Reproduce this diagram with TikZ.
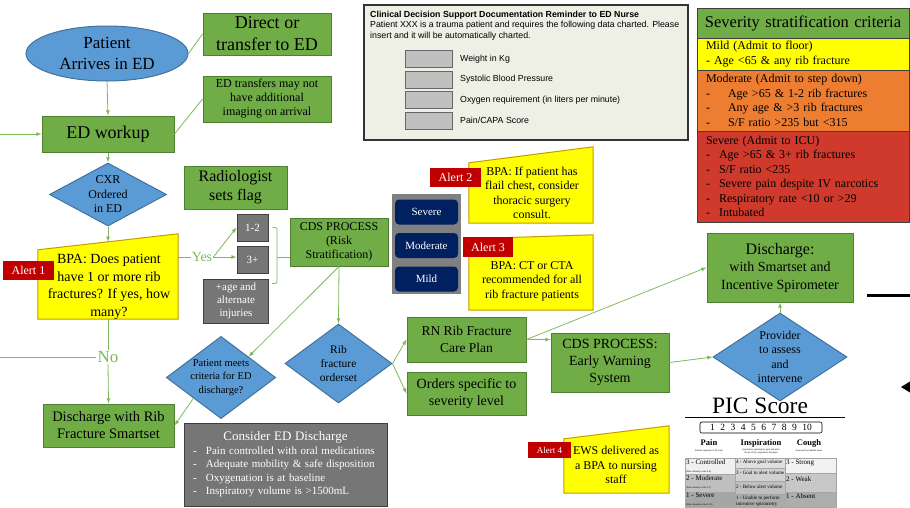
\documentclass[tikz,border=0pt]{standalone}
\usepackage{fontspec}
\setmainfont{Liberation Serif}
\newfontfamily\arialfont{Liberation Sans}
\usepackage{tikz}
\usetikzlibrary{shapes.geometric, backgrounds}
\definecolor{boxfill}{HTML}{70AD47}
\definecolor{boxedge}{HTML}{507E32}
\definecolor{linkgreen}{HTML}{7DB85A}
\definecolor{diafill}{HTML}{5B9BD5}
\definecolor{diaedge}{HTML}{41719C}
\definecolor{bpafill}{HTML}{FFFF00}
\definecolor{bpaedge}{HTML}{C89A00}
\definecolor{alertred}{HTML}{C00000}
\definecolor{flaggray}{HTML}{767676}
\definecolor{flagedge}{HTML}{3F3F3F}
\definecolor{navy}{HTML}{002060}
\definecolor{panelgray}{HTML}{808080}
\definecolor{docfill}{HTML}{EEF0E5}
\definecolor{inputgray}{HTML}{C0C0C0}
\definecolor{mildfill}{HTML}{FFFF00}
\definecolor{modfill}{HTML}{ED7D31}
\definecolor{sevfill}{HTML}{CF3A2C}
\newcommand{\fsz}[2]{\fontsize{#1}{#2}\selectfont}
\newcommand{\bpashape}[2]{
	\filldraw[fill=bpafill, draw=bpaedge, line width=1pt](#1.south west)--(#1.south east)--([yshift=#2pt]#1.north east)--([yshift=-#2pt]#1.north west)--cycle
}
\newcommand{\picgap}{\hspace{5.5pt}}
\tikzset{>=latex}
\tikzset{
	flow/.style={draw=linkgreen, line width=0.8pt},
	greenbox/.style={rectangle, draw=boxedge, fill=boxfill, line width=1pt, align=center, inner sep=0pt},
	bluediamond/.style={diamond, draw=diaedge, fill=diafill, line width=1pt, align=center, inner sep=0pt},
	bpabox/.style={rectangle, inner sep=0pt},
	bpatext/.style={align=center, inner sep=0pt, font=\fsz{12}{14.5}},
	alertbox/.style={rectangle, fill=alertred, text=white, inner sep=0pt, font=\fsz{12}{14}},
	flagbox/.style={rectangle, draw=flagedge, fill=flaggray, line width=1pt, text=white, align=center, inner sep=0pt, font=\fsz{11}{13}},
	levelbtn/.style={rectangle, rounded corners=4pt, fill=navy, text=white, minimum width=63pt, minimum height=25pt, inner sep=0pt, font=\fsz{11}{13}},
	critcell/.style={rectangle, draw=flagedge, line width=0.8pt, minimum width=212pt, text width=194pt, inner xsep=9pt, inner ysep=0pt, align=left, font=\fsz{12}{14.5}},
	inputbox/.style={rectangle, draw=black!60, fill=inputgray, line width=0.8pt, minimum width=47pt, minimum height=17pt, inner sep=0pt},
	inputlabel/.style={anchor=west, inner sep=0pt, font=\arialfont\fsz{8.8}{10}},
	piccell/.style={draw=black!35, line width=0.3pt},
	picrow/.style={anchor=north west, inner sep=0pt, align=left, font=\fsz{7}{7.5}},
	picsub/.style={inner sep=0pt, align=center, font=\fsz{2.5}{3}},
	yesno/.style={text=linkgreen, inner sep=1pt}
}

\begin{document}
\begin{tikzpicture}[x=1pt, y=-1pt]
	\useasboundingbox (0,0) rectangle (910,507);
	% arrival and workup
	\node[ellipse, draw=diaedge, fill=diafill, line width=1pt, minimum width=162pt, minimum height=55pt, inner sep=0pt, align=center, font=\fsz{17}{21}] (arrive) at (107,53.5) {Patient\\Arrives in ED};
	\node[greenbox, minimum width=128pt, minimum height=42pt, font=\fsz{18}{22}] (direct) at (267,34) {Direct or\\transfer to ED};
	\node[greenbox, minimum width=128pt, minimum height=46pt, font=\fsz{12}{14}] (transfers) at (267,99) {ED transfers may not\\have additional\\imaging on arrival};
	\node[greenbox, minimum width=132pt, minimum height=36pt, font=\fsz{18}{22}] (workup) at (108,134) {ED workup};
	\node[bluediamond, aspect=1.86, minimum width=117pt, minimum height=63pt, font=\fsz{12}{14.5}] (cxr) at (108,194.5) {CXR\\Ordered\\in ED};
	% alert 1
	\node[bpabox, minimum width=140pt, minimum height=77pt] (bpa1) at (108,280.5) {};
	\node[bpatext, font=\fsz{14}{17.5}] (bpa1text) at (109,287) {BPA: Does patient\\have 1 or more rib\\fractures? If yes, how\\many?};
	\node[alertbox, minimum width=51pt, minimum height=19pt] (alert1) at (28.5,270.5) {Alert 1};
	\node[yesno, font=\fsz{14}{16}] (yes) at (202,257) {Yes};
	\node[yesno, font=\fsz{17}{19}] (no) at (108,357) {No};
	% radiology flags
	\node[greenbox, minimum width=103pt, minimum height=43pt, font=\fsz{16}{19}] (radio) at (235.5,187.5) {Radiologist\\sets flag};
	\node[flagbox, minimum width=31pt, minimum height=27pt] (one2) at (252.5,227.5) {1-2};
	\node[flagbox, minimum width=31pt, minimum height=27pt] (three) at (252.5,259.5) {3+};
	\node[flagbox, minimum width=65pt, minimum height=44pt] (age) at (236,301) {+age and\\alternate\\injuries};
	\node[greenbox, minimum width=98pt, minimum height=48pt, font=\fsz{12}{14}] (cdsrisk) at (339,242) {CDS PROCESS\\(Risk\\Stratification)};
	% severity buttons
	\node[rectangle, fill=panelgray, minimum width=69pt, minimum height=100pt, inner sep=0pt] (panel) at (426.5,244) {};
	\node[levelbtn] (btnsevere) at (426.5,212) {Severe};
	\node[levelbtn] (btnmoderate) at (426.5,245.5) {Moderate};
	\node[levelbtn] (btnmild) at (426.5,279) {Mild};
	% alerts 2 and 3
	\node[bpabox, minimum width=124pt, minimum height=68pt] (bpa2) at (531,189) {};
	\node[bpatext] (bpa2text) at (532,193) {BPA: If patient has\\flail chest, consider\\thoracic surgery\\consult.};
	\node[alertbox, minimum width=51pt, minimum height=19pt] (alert2) at (455.5,177.5) {Alert 2};
	\node[bpabox, minimum width=124pt, minimum height=73pt] (bpa3) at (531,273.5) {};
	\node[bpatext] (bpa3text) at (532,281) {BPA: CT or CTA\\recommended for all\\rib fracture patients};
	\node[alertbox, minimum width=50pt, minimum height=20pt] (alert3) at (488,247) {Alert 3};
	% orderset and discharge
	\node[bluediamond, aspect=1.35, minimum width=107pt, minimum height=79pt, font=\fsz{11.5}{14}] (rib) at (338.5,363.5) {Rib\\fracture\\orderset};
	\node[bluediamond, aspect=1.33, minimum width=108pt, minimum height=81pt, font=\fsz{10.5}{13.5}] (meets) at (221,377.5) {Patient meets\\criteria for ED\\discharge?};
	\node[greenbox, minimum width=131pt, minimum height=43pt, font=\fsz{14.5}{17}] (dischrib) at (108.5,425.5) {Discharge with Rib\\Fracture Smartset};
	\node[flagbox, minimum width=203pt, minimum height=83pt, text width=185pt, inner xsep=9pt, align=left, font=\fsz{11}{13.5}] (consider) at (285.5,464.5) {\makebox[185pt]{\fsz{13}{16}Consider ED Discharge}\\\makebox[13pt][l]{-}Pain controlled with oral medications\\\makebox[13pt][l]{-}Adequate mobility \& safe disposition\\\makebox[13pt][l]{-}Oxygenation is at baseline\\\makebox[13pt][l]{-}Inspiratory volume is >1500mL};
	\node[greenbox, minimum width=119pt, minimum height=45pt, font=\fsz{13.5}{17}] (rn) at (466.5,339.5) {RN Rib Fracture\\Care Plan};
	\node[greenbox, minimum width=119pt, minimum height=43pt, font=\fsz{14}{17}] (orders) at (466.5,393.5) {Orders specific to\\severity level};
	\node[greenbox, minimum width=118pt, minimum height=59pt, font=\fsz{14}{17}] (cdsews) at (610,362.5) {CDS PROCESS:\\Early Warning\\System};
	\node[bluediamond, aspect=1.52, minimum width=134pt, minimum height=88pt, font=\fsz{12}{14.3}] (provider) at (780,357) {Provider\\to assess\\and\\intervene};
	\node[greenbox, minimum width=146pt, minimum height=69pt, font=\fsz{14}{17.5}] (discharge) at (780,267.5) {{\fsz{16}{17.5}Discharge:}\\with Smartset and\\Incentive Spirometer};
	% alert 4
	\node[bpabox, minimum width=105pt, minimum height=60.5pt] (ews) at (616.5,462.75) {};
	\node[bpatext] (ewstext) at (616,465) {EWS delivered as\\a BPA to nursing\\staff};
	\node[alertbox, minimum width=43pt, minimum height=16pt, font=\fsz{9}{10}] (alert4) at (549.5,450) {Alert 4};
	\begin{scope}[on background layer]
		\bpashape{bpa1}{8};
		\bpashape{bpa2}{8};
		\bpashape{bpa3}{2};
		\bpashape{ews}{6.5};
	\end{scope}
	% criteria table
	\node[critcell, fill=boxfill, minimum height=30pt, align=center, font=\fsz{16.5}{18}] (crithead) at (803,23) {\makebox[194pt]{Severity stratification criteria}};
	\node[critcell, fill=mildfill, minimum height=32pt] (mild) at (803,54) {Mild (Admit to floor)\\- Age <65 \& any rib fracture};
	\node[critcell, fill=modfill, minimum height=61pt] (moderate) at (803,100.5) {Moderate (Admit to step down)\\\makebox[22pt][l]{-}Age >65 \& 1-2 rib fractures\\\makebox[22pt][l]{-}Any age \& >3 rib fractures\\\makebox[22pt][l]{-}S/F ratio >235 but <315};
	\node[critcell, fill=sevfill, minimum height=91pt] (severe) at (803,176.5) {Severe (Admit to ICU)\\\makebox[13pt][l]{-}Age >65 \& 3+ rib fractures\\\makebox[13pt][l]{-}S/F ratio <235\\\makebox[13pt][l]{-}Severe pain despite IV narcotics\\\makebox[13pt][l]{-}Respiratory rate <10 or >29\\\makebox[13pt][l]{-}Intubated};
	% documentation reminder
	\node[rectangle, draw=black!80, fill=docfill, line width=1.3pt, minimum width=324pt, minimum height=135pt, inner sep=0pt] (docbox) at (526,72.5) {};
	\node[anchor=north west, inner sep=0pt, align=left, font=\arialfont\fsz{8.8}{10.3}] (doctext) at (370,11) {\textbf{Clinical Decision Support Documentation Reminder to ED Nurse}\\Patient XXX is a trauma patient and requires the following data charted. Please\\insert and it will be automatically charted.};
	\node[inputbox] (inweight) at (428.5,59) {};
	\node[inputbox] (insbp) at (428.5,79.5) {};
	\node[inputbox] (inoxygen) at (428.5,100) {};
	\node[inputbox] (inpain) at (428.5,120.5) {};
	\node[inputlabel] (lbweight) at (460,59) {Weight in Kg};
	\node[inputlabel] (lbsbp) at (460,79.5) {Systolic Blood Pressure};
	\node[inputlabel] (lboxygen) at (460,100) {Oxygen requirement (in liters per minute)};
	\node[inputlabel] (lbpain) at (460,120.5) {Pain/CAPA Score};
	% connectors
	\coordinate (leftin) at (0,134);
	\coordinate (leftno) at (0,357);
	\coordinate (brace) at (277,257);
	\draw[flow](arrive.east)--(direct.west);
	\draw[flow, ->](arrive.south)--(workup.north);
	\draw[flow](workup.east)--(transfers.west);
	\draw[flow, ->](leftin)--(workup.west);
	\draw[flow, ->](workup.south)--(cxr.north);
	\draw[flow, ->](cxr.south)--(bpa1.north);
	\draw[flow](bpa1.east |- yes.west)--(yes.west);
	\draw[flow, ->](yes.east)--(one2.west);
	\draw[flow, ->](yes.east)--(three.west |- yes.east);
	\draw[flow, rounded corners=2pt]([xshift=4pt]one2.east)-|(brace)|-([xshift=3pt, yshift=-5pt]age.north east);
	\draw[flow](brace)--(brace -| cdsrisk.west);
	\draw[flow, ->](cdsrisk.south)--(rib.north);
	\draw[flow, ->](cdsrisk.south)--(meets.north east);
	\draw[flow, ->](meets.south west)--(dischrib.east);
	\draw[flow](bpa1.south)--(no.north);
	\draw[flow, ->](no.south)--(dischrib.north);
	\draw[flow](leftno)--(no.west);
	\draw[flow, ->](rib.east)--(rn.west);
	\draw[flow, ->](rib.east)--(orders.west);
	\draw[flow, ->](rn.east)--(cdsews.west |- rn.east);
	\draw[flow, ->](rn.east)--(discharge.west);
	\draw[flow, ->](cdsews.east)--(provider.west);
	\draw[flow, ->](provider.north)--(discharge.south);
	% cut-off marks at the right edge
	\coordinate (edgelinea) at (867,295);
	\coordinate (edgelineb) at (912,295);
	\coordinate (edgetip) at (901,387);
	\draw[line width=3pt](edgelinea)--(edgelineb);
	\fill (edgetip)--++(9,-5.5)--++(0,11)--cycle;
	% PIC score
	\node[inner sep=0pt, font=\fsz{23.5}{24}] (pictitle) at (760,405.5) {PIC Score};
	\draw[line width=0.8pt](685,417)--(845,417);
	\draw[rounded corners=2pt, line width=0.6pt](700,422) rectangle (822,433);
	\node[inner sep=0pt, font=\fsz{9.5}{10}] (picscale) at (761,427.5) {1\picgap 2\picgap 3\picgap 4\picgap 5\picgap 6\picgap 7\picgap 8\picgap 9\picgap 10};
	\node[inner sep=0pt, font=\bfseries\fsz{8.5}{9}] (picpain) at (709,443) {Pain};
	\node[inner sep=0pt, font=\bfseries\fsz{8.5}{9}] (picinsp) at (761,443) {Inspiration};
	\node[inner sep=0pt, font=\bfseries\fsz{8.5}{9}] (piccough) at (809,443) {Cough};
	\node[picsub] (subpain) at (709,450.5) {Patient-reported, 0-10 scale};
	\node[picsub] (subinsp) at (761,451) {Inspiratory spirometer, goal and alert\\levels set by respiratory therapist};
	\node[picsub] (subcough) at (809,450.5) {Assessed by bedside nurse};
	\filldraw[piccell, fill=black!6](685,458) rectangle (735,474);
	\filldraw[piccell, fill=black!25](685,474) rectangle (735,492);
	\filldraw[piccell, fill=black!35](685,492) rectangle (735,507);
	\filldraw[piccell, fill=black!12](735,458) rectangle (785,468);
	\filldraw[piccell, fill=black!18](735,468) rectangle (785,481);
	\filldraw[piccell, fill=black!25](735,481) rectangle (785,494);
	\filldraw[piccell, fill=black!33](735,494) rectangle (785,507);
	\filldraw[piccell, fill=black!5](785,458) rectangle (836,473);
	\filldraw[piccell, fill=black!22](785,473) rectangle (836,492);
	\filldraw[piccell, fill=black!32](785,492) rectangle (836,507);
	\node[picrow] (painhigh) at (686,459.5) {3 - Controlled\\{\fsz{2.5}{3}(Pain intensity scale 0-4)}};
	\node[picrow] (painmid) at (686,475.5) {2 - Moderate\\{\fsz{2.5}{3}(Pain intensity scale 5-7)}};
	\node[picrow] (painlow) at (686,493) {1 - Severe\\{\fsz{2.5}{3}(Pain intensity scale 8-10)}};
	\node[picrow, font=\fsz{5}{5.5}] (insp4) at (736,460) {4 - Above goal volume};
	\node[picrow, font=\fsz{5}{5.5}] (insp3) at (736,471) {3 - Goal to alert volume};
	\node[picrow, font=\fsz{5}{5.5}] (insp2) at (736,485) {2 - Below alert volume};
	\node[picrow, font=\fsz{5}{5.5}] (insp1) at (736,496) {1 - Unable to perform\\incentive spirometry};
	\node[picrow] (coughhigh) at (786,459.5) {3 - Strong};
	\node[picrow] (coughmid) at (786,476) {2 - Weak};
	\node[picrow] (coughlow) at (786,493) {1 - Absent};
\end{tikzpicture}
\end{document}
